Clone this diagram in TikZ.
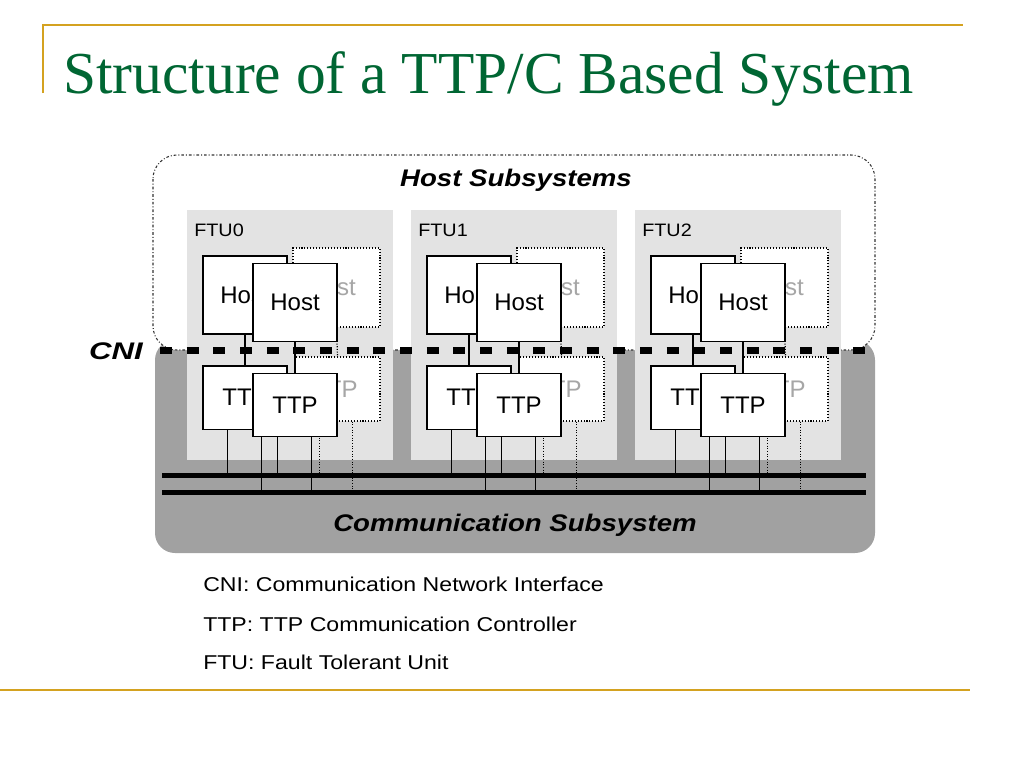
\documentclass[tikz,border=0pt]{standalone}
\usepackage{fontspec}
\usepackage{graphicx}
\setmainfont{Liberation Serif}
\newfontfamily\arial{Liberation Sans}
\usetikzlibrary{calc}
\definecolor{goldline}{RGB}{212,162,32}
\definecolor{titlegreen}{RGB}{0,102,51}
\newcommand{\wider}[2]{\scalebox{#1}[1]{#2}}
\begin{document}
\begin{tikzpicture}[x=0.75pt,y=-0.75pt,
  box/.style={draw=black,line width=1pt,fill=white,inner sep=0pt,minimum width=63pt,
    font=\arial\fontsize{18}{20}\selectfont},
  hostbox/.style={box,minimum height=58.5pt},
  ttpbox/.style={box,minimum height=47.5pt},
  ghostbox/.style={draw=black,line width=0.8pt,dash pattern=on 0.8pt off 1.4pt,fill=white,
    inner sep=0pt,text=black!35,font=\arial\fontsize{18}{20}\selectfont},
  ghosthost/.style={ghostbox,minimum width=65.25pt,minimum height=59.25pt},
  ghostttp/.style={ghostbox,minimum width=63.75pt,minimum height=48pt},
  link/.style={draw=black,line width=1pt},
  ghostlink/.style={draw=black,line width=0.9pt,dash pattern=on 0.8pt off 1.2pt},
  bus/.style={draw=black,line width=3.75pt},
  cniline/.style={draw=black,line width=5.25pt,dash pattern=on 9pt off 11pt},
  hostborder/.style={draw=black!80,line width=0.8pt,dash pattern=on 2pt off 1.5pt on 0.7pt off 1.5pt},
  region/.style={font=\arial\bfseries\itshape\fontsize{18}{20}\selectfont,inner sep=0pt},
  ftulbl/.style={font=\arial\fontsize{13.5}{15}\selectfont,inner sep=0pt,anchor=west},
  legend/.style={font=\arial\fontsize{15}{18}\selectfont,inner sep=0pt,anchor=base west},
  gold/.style={draw=goldline,line width=1.6pt}]
\useasboundingbox (0,0) rectangle (1024,768);
% slide frame
\coordinate (g1) at (43,93);
\coordinate (g2) at (43,25);
\coordinate (g3) at (963,25);
\draw[gold] (g1) -- (g2) -- (g3);
\coordinate (g4) at (0,690);
\coordinate (g5) at (970,690);
\draw[gold] (g4) -- (g5);
\node[anchor=base west,inner sep=0pt,text=titlegreen,font=\fontsize{44.6}{50}\selectfont] (title) at (63,93) {Structure of a TTP/C Based System};
% subsystems
\fill[black!37,rounded corners=15pt] (155,340) rectangle (875,553);
\draw[hostborder,fill=white,rounded corners=18pt] (153,155) rectangle (875,350);
\node[region] (hostlbl) at (516,180) {\wider{1.15}{Host Subsystems}};
% FTU regions
\foreach \i/\b in {0/203,1/427,2/651}{
  \fill[black!11] (\b-16,210) rectangle (\b+190,460);
  \node[ftulbl] (ftu\i) at (\b-9,230) {\wider{1.1}{FTU\i}};
}
% CNI
\coordinate (cniw) at (160,350);
\coordinate (cnie) at (866,350);
\draw[cniline] (cniw) -- (cnie);
\node[font=\arial\bfseries\itshape\fontsize{18}{20}\selectfont,inner sep=0pt] (cnilbl) at (116,351) {\wider{1.3}{CNI}};
% buses
\coordinate (bus1w) at (162,475);
\coordinate (bus1e) at (866,475);
\coordinate (bus2w) at (162,492);
\coordinate (bus2e) at (866,492);
\foreach \i/\b in {0/203,1/427,2/651}{
  % ghost unit
  \node[ghosthost] (h\i-c) at (\b+133.5,287.5) {Host\hspace*{8pt}};
  \node[ghostttp] (t\i-c) at (\b+134.5,389) {TTP\hspace*{4pt}};
  \draw[ghostlink] (h\i-c.south) -- (t\i-c.north);
  \draw[ghostlink] ($(t\i-c.south west)+(25,0)$) coordinate (p) -- (p |- bus1w);
  \draw[ghostlink] ($(t\i-c.south west)+(58,0)$) coordinate (p) -- (p |- bus2w);
  % first unit
  \node[hostbox] (h\i-a) at (\b+42,295) {Host};
  \node[ttpbox] (t\i-a) at (\b+42,397.5) {TTP};
  \draw[link] (h\i-a.south) -- (t\i-a.north);
  \draw[link] ($(t\i-a.south west)+(25,0)$) coordinate (p) -- (p |- bus1w);
  \draw[link] ($(t\i-a.south west)+(59,0)$) coordinate (p) -- (p |- bus2w);
  % second unit
  \node[hostbox] (h\i-b) at (\b+92,302.5) {Host};
  \node[ttpbox] (t\i-b) at (\b+92,405) {TTP};
  \draw[link] (h\i-b.south) -- (t\i-b.north);
  \draw[link] ($(t\i-b.south west)+(25,0)$) coordinate (p) -- (p |- bus1w);
  \draw[link] ($(t\i-b.south west)+(59,0)$) coordinate (p) -- (p |- bus2w);
}
\draw[bus] (bus1w) -- (bus1e);
\draw[bus] (bus2w) -- (bus2e);
\node[region] (commlbl) at (515,525) {\wider{1.15}{Communication Subsystem}};
% legend
\node[legend] (leg1) at (203,591) {\wider{1.155}{CNI: Communication Network Interface}};
\node[legend] (leg2) at (203,631) {\wider{1.155}{TTP: TTP Communication Controller}};
\node[legend] (leg3) at (203,669) {\wider{1.155}{FTU: Fault Tolerant Unit}};
\end{tikzpicture}
\end{document}
